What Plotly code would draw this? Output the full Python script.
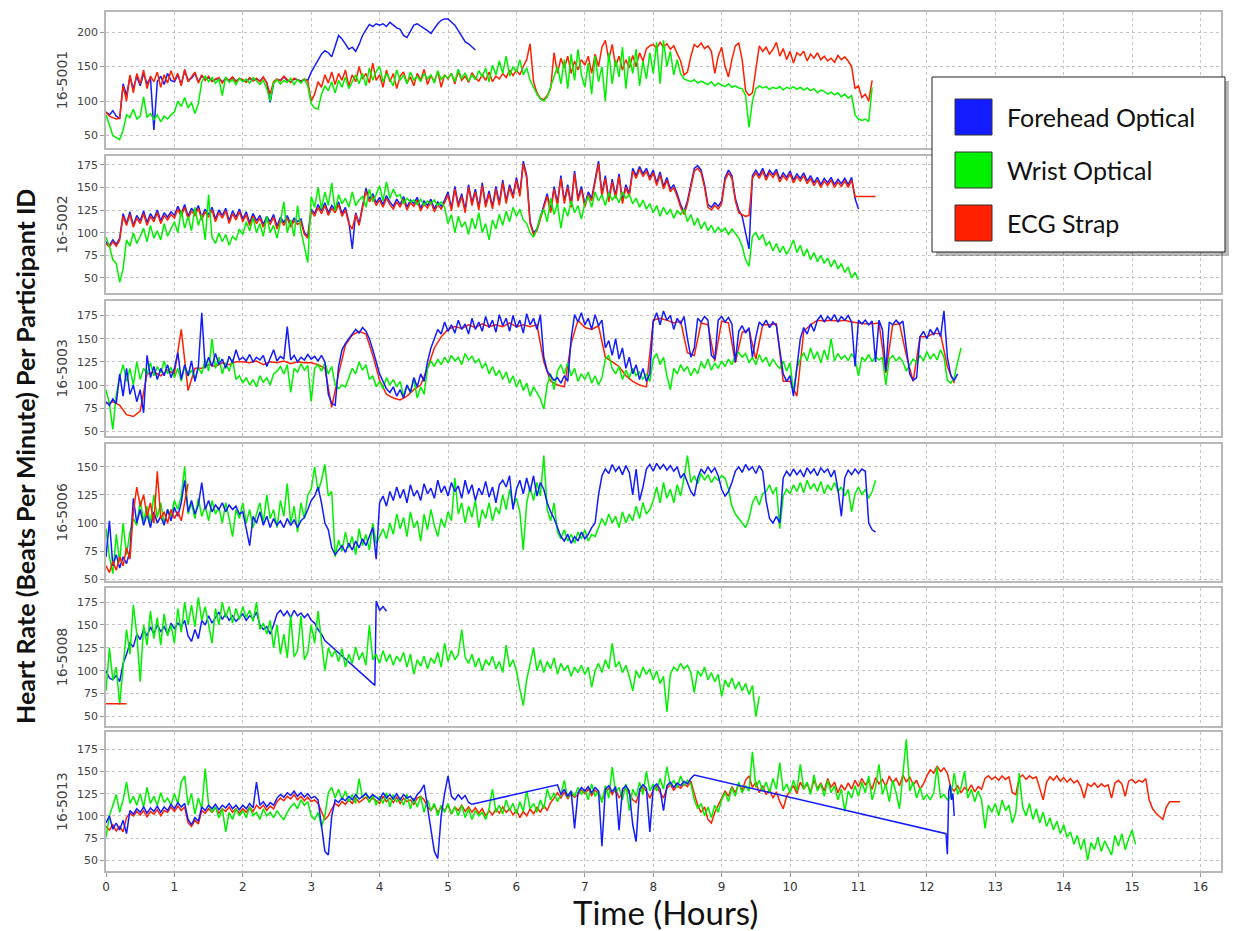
import numpy as np
import plotly.graph_objects as go

# ---------------- data ----------------
DT = 0.05

PANEL_IDS = ["16-5001", "16-5002", "16-5003", "16-5006", "16-5008", "16-5013"]
SERIES_NAMES = ["Forehead Optical", "Wrist Optical", "ECG Strap"]
X_TICKS = list(range(0, 17))
Y_TICKS = [
    [50, 100, 150, 200],
    [50, 75, 100, 125, 150, 175],
    [50, 75, 100, 125, 150, 175],
    [50, 75, 100, 125, 150],
    [50, 75, 100, 125, 150, 175],
    [50, 75, 100, 125, 150, 175],
]
Y_RANGES = [[32, 229], [33, 185], [45, 191], [48.8, 170.2], [40, 190], [38, 194]]

# ---- 16-5001 ----
P1_BLUE = [
    84, 80, 86, 78, 75, 125, 108, 135, 118, 136, 122, 140, 125, 134, 58, 128, 136, 124, 140, 130,
    128, 138, 124, 144, 130, 133, 140, 128, 136, 131, 134, 129, 131, 133, 128, 132, 130, 134, 129, 132,
    130, 128, 133, 130, 132, 129, 134, 127, 98, 126, 131, 130, 135, 130, 128, 132, 131, 129, 131, 130,
    142, 150, 160, 168, 173, 170, 164, 180, 195, 190, 182, 175, 178, 172, 182, 195, 203, 211, 208, 212,
    210, 212, 208, 214, 210, 206, 204, 195, 192, 200, 210, 212, 209, 206, 202, 198, 205, 212, 217, 219,
    219, 214, 210, 202, 193, 186, 183, 178, 174]
P1_RED = [
    84, 78, 76, 74, 75, 122, 100, 138, 112, 140, 125, 145, 118, 136, 128, 142, 120, 138, 126, 144,
    130, 140, 122, 146, 128, 135, 142, 126, 138, 130, 136, 128, 132, 134, 126, 133, 130, 135, 128, 133,
    131, 127, 134, 129, 133, 128, 135, 126, 110, 128, 132, 129, 136, 131, 127, 133, 130, 128, 132, 129,
    100, 110, 128, 120, 138, 126, 142, 124, 140, 130, 145, 122, 138, 128, 150, 132, 140, 126, 155, 130,
    138, 120, 145, 128, 140, 118, 136, 142, 126, 135, 122, 140, 130, 146, 124, 137, 128, 143, 120, 138,
    132, 140, 125, 143, 130, 136, 127, 141, 133, 129, 138, 130, 142, 128, 136, 132, 140, 134, 145, 137,
    145, 138, 150, 160, 183, 128, 112, 104, 102, 108, 118, 170, 140, 162, 148, 165, 140, 158, 145, 160,
    152, 165, 140, 168, 150, 178, 188, 160, 182, 150, 165, 145, 160, 148, 166, 150, 170, 158, 176, 180,
    182, 176, 185, 178, 183, 175, 180, 170, 158, 138, 142, 165, 182, 178, 184, 176, 180, 172, 140, 165,
    178, 150, 135, 160, 180, 184, 160, 115, 108, 112, 150, 180, 172, 178, 168, 175, 185, 165, 176, 160,
    172, 155, 170, 166, 172, 158, 168, 162, 170, 160, 165, 158, 162, 156, 166, 160, 164, 158, 150, 118,
    122, 105, 110, 100, 130]
P1_GREEN = [
    80, 66, 50, 47, 44, 58, 80, 76, 88, 74, 78, 106, 76, 82, 73, 80, 70, 78, 74, 80,
    84, 100, 92, 105, 90, 98, 82, 96, 128, 136, 128, 134, 126, 132, 108, 135, 127, 131, 124, 133,
    128, 132, 126, 134, 129, 124, 130, 118, 100, 126, 131, 125, 130, 127, 133, 124, 131, 126, 132, 122,
    96, 90, 88, 110, 122, 115, 128, 112, 130, 120, 135, 118, 128, 138, 125, 140, 122, 148, 130, 143,
    150, 128, 140, 132, 122, 145, 130, 138, 125, 142, 130, 136, 128, 140, 132, 138, 126, 144, 131, 137,
    133, 140, 128, 146, 132, 141, 129, 138, 131, 144, 135, 148, 128, 152, 138, 158, 140, 165, 136, 150,
    142, 160, 138, 148, 130, 120, 110, 103, 100, 106, 120, 135, 150, 125, 160, 118, 168, 130, 175, 138,
    120, 155, 110, 165, 128, 150, 100, 170, 125, 160, 135, 178, 118, 165, 140, 175, 122, 158, 132, 170,
    140, 185, 125, 188, 150, 172, 138, 160, 140, 132, 130, 128, 131, 126, 129, 127, 124, 128, 122, 126,
    123, 121, 125, 120, 122, 119, 118, 108, 62, 100, 118, 122, 119, 121, 117, 120, 118, 121, 116, 120,
    118, 121, 117, 120, 116, 119, 115, 118, 112, 116, 114, 110, 113, 109, 112, 106, 110, 104, 108, 80,
    74, 72, 74, 70, 120]

# ---- 16-5002 ----
P2_BLUE = [
    90, 86, 92, 87, 94, 121, 110, 123, 108, 119, 113, 124, 111, 121, 115, 125, 113, 122, 117, 123,
    119, 129, 121, 131, 118, 127, 122, 130, 117, 126, 120, 128, 115, 125, 119, 127, 113, 124, 117, 126,
    115, 123, 111, 121, 113, 119, 109, 118, 112, 120, 107, 117, 111, 119, 109, 116, 112, 115, 100, 96,
    126, 121, 131, 124, 133, 122, 130, 125, 134, 121, 128, 112, 82, 122, 110, 129, 149, 137, 143, 133,
    139, 131, 141, 134, 129, 137, 131, 140, 128, 136, 132, 139, 127, 135, 130, 137, 126, 134, 129, 136,
    145, 127, 151, 131, 143, 125, 153, 133, 148, 128, 155, 131, 146, 129, 151, 133, 158, 135, 153, 141,
    161, 143, 179, 163, 112, 100, 104, 117, 130, 143, 124, 151, 133, 163, 135, 153, 131, 168, 138, 151,
    131, 145, 138, 161, 179, 143, 163, 137, 159, 141, 165, 135, 153, 143, 171, 163, 173, 165, 171, 161,
    169, 155, 167, 151, 161, 148, 153, 143, 131, 123, 135, 153, 171, 174, 169, 153, 131, 128, 133, 129,
    135, 161, 169, 163, 138, 125, 118, 100, 82, 163, 169, 163, 171, 161, 169, 164, 170, 159, 166, 161,
    168, 158, 165, 160, 166, 157, 163, 155, 161, 153, 160, 155, 161, 153, 159, 154, 160, 153, 161, 138,
    126]
P2_RED = [
    88, 84, 90, 85, 92, 118, 108, 120, 106, 116, 110, 121, 108, 118, 112, 122, 110, 119, 114, 120,
    116, 126, 118, 128, 115, 124, 119, 127, 114, 123, 117, 125, 112, 122, 116, 124, 110, 121, 114, 123,
    112, 120, 108, 118, 110, 116, 106, 115, 109, 117, 104, 114, 108, 116, 106, 113, 109, 112, 98, 94,
    124, 118, 128, 121, 130, 119, 127, 122, 131, 118, 125, 110, 104, 120, 108, 126, 146, 134, 140, 130,
    136, 128, 138, 131, 126, 134, 128, 137, 125, 133, 129, 136, 124, 132, 127, 134, 123, 131, 126, 133,
    142, 124, 148, 128, 140, 122, 150, 130, 145, 125, 152, 128, 143, 126, 148, 130, 155, 132, 150, 138,
    158, 140, 176, 160, 110, 98, 102, 115, 128, 140, 122, 148, 130, 160, 132, 150, 128, 165, 135, 148,
    128, 142, 135, 158, 176, 140, 160, 134, 156, 138, 162, 132, 150, 140, 168, 160, 170, 162, 168, 158,
    166, 152, 164, 148, 158, 145, 150, 140, 128, 120, 132, 150, 168, 171, 166, 150, 128, 125, 130, 126,
    132, 158, 166, 160, 135, 122, 120, 118, 119, 160, 166, 160, 168, 158, 166, 161, 167, 156, 163, 158,
    165, 155, 162, 157, 163, 154, 160, 152, 158, 150, 157, 152, 158, 150, 156, 151, 157, 150, 158, 140,
    140, 140, 140, 140, 140, 140]
P2_GREEN = [
    95, 85, 70, 66, 45, 60, 92, 85, 100, 88, 96, 105, 90, 108, 94, 102, 92, 110, 96, 104,
    112, 100, 125, 105, 118, 102, 128, 108, 120, 92, 142, 95, 88, 100, 90, 98, 86, 96, 92, 104,
    98, 112, 102, 116, 100, 110, 96, 118, 100, 108, 94, 112, 134, 100, 114, 96, 130, 102, 84, 67,
    140, 128, 150, 126, 145, 130, 155, 124, 142, 132, 138, 128, 145, 130, 136, 140, 128, 148, 134, 142,
    152, 135, 156, 138, 148, 140, 142, 132, 138, 134, 136, 131, 137, 130, 135, 132, 136, 130, 134, 128,
    110, 120, 100, 118, 106, 112, 98, 116, 104, 122, 100, 110, 92, 114, 104, 120, 108, 124, 112, 128,
    118, 126, 114, 110, 100, 95, 104, 118, 126, 112, 138, 120, 132, 105, 128, 118, 135, 122, 130, 115,
    132, 140, 128, 145, 135, 142, 130, 144, 136, 141, 133, 145, 138, 142, 132, 138, 128, 136, 126, 132,
    122, 130, 118, 128, 120, 126, 116, 124, 120, 126, 112, 120, 108, 116, 104, 112, 102, 108, 100, 106,
    101, 105, 98, 104, 99, 94, 85, 70, 63, 96, 100, 92, 98, 86, 90, 80, 88, 78, 85, 76,
    83, 92, 78, 86, 74, 82, 70, 78, 68, 75, 66, 72, 62, 70, 60, 66, 56, 62, 50, 56,
    48]

# ---- 16-5003 ----
P3_BLUE = [
    82, 78, 85, 80, 112, 88, 118, 90, 100, 82, 95, 70, 132, 108, 120, 106, 118, 110, 122, 108,
    118, 135, 106, 122, 110, 126, 104, 120, 178, 118, 130, 120, 134, 122, 128, 118, 131, 124, 138, 127,
    130, 126, 133, 125, 130, 127, 132, 120, 129, 138, 126, 131, 128, 163, 127, 132, 125, 130, 127, 133,
    128, 131, 126, 132, 125, 90, 80, 78, 120, 138, 145, 150, 155, 160, 156, 162, 158, 150, 138, 125,
    112, 104, 96, 92, 98, 88, 95, 86, 100, 92, 108, 98, 112, 104, 125, 140, 150, 160, 155, 168,
    158, 165, 156, 170, 160, 166, 155, 172, 160, 168, 158, 174, 162, 170, 157, 176, 164, 172, 158, 175,
    162, 170, 156, 177, 165, 172, 160, 176, 130, 115, 110, 105, 108, 102, 110, 104, 150, 176, 168, 178,
    165, 172, 160, 176, 164, 170, 140, 148, 132, 150, 128, 140, 118, 130, 112, 122, 106, 118, 104, 112,
    168, 178, 165, 180, 170, 175, 160, 172, 166, 174, 150, 130, 140, 172, 168, 174, 170, 132, 128, 170,
    174, 168, 173, 166, 125, 158, 164, 156, 162, 130, 152, 168, 164, 170, 162, 168, 164, 140, 112, 104,
    110, 88, 120, 150, 162, 155, 166, 158, 170, 175, 168, 174, 170, 176, 168, 174, 170, 175, 168, 120,
    170, 166, 170, 165, 169, 125, 170, 160, 115, 168, 165, 170, 166, 169, 140, 112, 105, 108, 152, 158,
    150, 160, 154, 162, 152, 180, 130, 110, 105, 112]
P3_RED_DT = 0.1
P3_RED = [
    80, 82, 78, 68, 66, 72, 112, 114, 110, 116,
    112, 160, 94, 118, 118, 122, 120, 124, 122, 125,
    125, 124, 126, 122, 125, 124, 126, 123, 125, 124,
    124, 122, 118, 76, 112, 143, 154, 158, 155, 132,
    105, 90, 86, 84, 88, 95, 100, 118, 140, 152,
    160, 163, 161, 165, 162, 166, 163, 165, 163, 167,
    163, 165, 163, 165, 125, 104, 100, 98, 145, 170,
    162, 160, 164, 130, 125, 120, 110, 104, 100, 98,
    170, 172, 170, 167, 169, 135, 132, 167, 165, 126,
    169, 167, 124, 157, 160, 128, 165, 165, 166, 104,
    104, 88, 158, 165, 170, 169, 170, 169, 170, 168,
    167, 166, 166, 167, 113, 165, 166, 132, 104, 152,
    152, 156, 155, 120, 102]
P3_GREEN = [
    95, 80, 52, 90, 108, 122, 104, 118, 100, 125, 106, 118, 112, 124, 110, 120, 113, 126, 112, 119,
    108, 118, 104, 120, 110, 116, 106, 119, 112, 128, 115, 150, 118, 130, 112, 124, 115, 128, 106, 110,
    102, 108, 100, 106, 98, 110, 103, 108, 100, 112, 115, 120, 112, 122, 92, 118, 114, 123, 116, 121,
    82, 118, 122, 115, 124, 112, 120, 100, 96, 100, 98, 108, 118, 112, 125, 116, 122, 106, 110, 98,
    104, 96, 108, 100, 106, 98, 104, 88, 100, 92, 106, 86, 98, 90, 118, 126, 120, 128, 122, 130,
    124, 132, 126, 130, 122, 134, 127, 131, 124, 128, 118, 124, 112, 120, 110, 116, 106, 114, 102, 110,
    98, 106, 94, 102, 88, 98, 92, 85, 74, 100, 112, 95, 115, 122, 112, 124, 110, 118, 104, 112,
    106, 114, 102, 110, 100, 108, 128, 132, 118, 112, 120, 106, 116, 108, 118, 110, 114, 106, 112, 104,
    128, 134, 122, 130, 110, 95, 118, 112, 122, 115, 120, 110, 118, 112, 125, 118, 128, 116, 124, 118,
    126, 120, 128, 122, 132, 135, 130, 134, 124, 130, 122, 133, 125, 130, 120, 128, 122, 118, 126, 115,
    124, 92, 118, 128, 135, 126, 140, 128, 136, 124, 138, 127, 150, 126, 134, 128, 132, 126, 134, 128,
    110, 130, 126, 133, 125, 131, 127, 130, 100, 128, 132, 126, 130, 125, 115, 122, 128, 124, 132, 126,
    136, 128, 134, 127, 138, 130, 105, 102, 108, 125, 140]

# ---- 16-5006 ----
P4_BLUE = [
    70, 102, 62, 72, 60, 70, 64, 75, 122, 100, 112, 98, 108, 96, 110, 100, 106, 98, 112, 102,
    114, 106, 118, 138, 110, 120, 108, 116, 136, 112, 120, 110, 116, 112, 118, 110, 116, 112, 115, 108,
    110, 95, 80, 106, 100, 110, 98, 106, 96, 104, 98, 102, 96, 104, 98, 103, 96, 102, 105, 112,
    120, 124, 132, 118, 100, 94, 78, 72, 76, 80, 74, 82, 76, 84, 78, 86, 80, 88, 96, 68,
    118, 124, 115, 128, 120, 132, 122, 130, 118, 134, 124, 129, 120, 135, 126, 131, 122, 138, 127, 133,
    124, 136, 128, 133, 122, 138, 126, 134, 120, 131, 125, 137, 123, 132, 118, 134, 138, 132, 142, 112,
    130, 138, 126, 140, 128, 142, 124, 136, 130, 118, 110, 104, 96, 88, 84, 90, 82, 88, 84, 92,
    86, 90, 96, 100, 125, 142, 148, 144, 152, 146, 150, 143, 151, 145, 125, 148, 120, 132, 148, 152,
    146, 153, 148, 152, 147, 151, 146, 150, 140, 144, 136, 128, 124, 140, 148, 144, 150, 145, 149, 142,
    130, 124, 128, 136, 146, 150, 145, 152, 147, 150, 144, 151, 146, 120, 104, 100, 106, 100, 140, 146,
    142, 148, 143, 147, 141, 149, 144, 148, 142, 149, 145, 148, 141, 147, 130, 106, 140, 147, 143, 148,
    144, 148, 146, 100, 94, 92]
P4_RED = [
    62, 56, 66, 58, 70, 62, 78, 68, 110, 132, 115, 125, 106, 118, 100, 146, 104, 110, 100, 112,
    104, 110, 102, 120, 135]
P4_GREEN = [
    95, 70, 55, 90, 65, 100, 72, 92, 104, 98, 120, 102, 115, 100, 125, 105, 118, 100, 112, 106,
    120, 112, 124, 150, 108, 118, 104, 122, 106, 115, 102, 120, 108, 114, 100, 118, 104, 88, 112, 104,
    118, 100, 112, 96, 108, 118, 100, 125, 104, 112, 96, 120, 106, 135, 100, 115, 92, 118, 104, 125,
    130, 150, 128, 138, 152, 124, 128, 70, 85, 75, 92, 78, 88, 72, 95, 80, 90, 76, 100, 82,
    88, 95, 86, 100, 90, 108, 95, 105, 88, 110, 96, 102, 84, 108, 94, 112, 98, 88, 104, 96,
    110, 102, 140, 108, 118, 100, 115, 105, 120, 96, 112, 104, 118, 102, 114, 108, 125, 112, 130, 115,
    122, 110, 76, 118, 132, 120, 136, 124, 160, 112, 102, 118, 92, 86, 94, 84, 90, 82, 92, 86,
    94, 84, 90, 88, 96, 104, 98, 108, 100, 106, 96, 110, 100, 108, 102, 115, 104, 118, 108, 112,
    120, 132, 118, 136, 122, 130, 118, 134, 124, 140, 160, 136, 142, 135, 144, 138, 143, 136, 141, 138,
    142, 140, 130, 115, 108, 104, 100, 96, 104, 118, 124, 116, 126, 128, 134, 126, 132, 95, 124, 130,
    126, 134, 128, 136, 127, 138, 130, 135, 128, 137, 126, 134, 129, 136, 128, 132, 124, 130, 110, 126,
    132, 125, 130, 122, 128, 138]

# ---- 16-5008 ----
P5_BLUE_A = [
    100, 92, 90, 95, 88, 108, 118, 130, 126, 140, 134, 145, 138, 148, 140, 150, 143, 148, 140, 152,
    146, 152, 148, 155, 138, 132, 145, 135, 155, 150, 160, 152, 158, 164, 156, 162, 155, 160, 154, 158,
    162, 155, 160, 157, 164, 150, 145, 148, 140, 150, 162, 166, 160, 165, 158, 166, 160, 163, 158, 162,
    155, 152, 145, 140, 133]
P5_BLUE_B_T0 = 3.93
P5_BLUE_B = [84]
P5_BLUE_C_T0 = 3.95
P5_BLUE_C = [176, 166, 170, 165]
P5_RED = [64, 64, 64, 64, 64, 64, 64]
P5_GREEN = [
    78, 125, 90, 104, 63, 100, 145, 118, 172, 140, 88, 150, 128, 165, 135, 158, 128, 162, 138, 150,
    130, 168, 142, 175, 150, 172, 148, 180, 155, 170, 148, 130, 168, 150, 175, 158, 170, 152, 168, 156,
    170, 158, 166, 154, 175, 145, 152, 140, 155, 125, 150, 118, 140, 114, 160, 115, 122, 160, 112, 120,
    150, 130, 165, 135, 100, 125, 115, 122, 110, 124, 104, 118, 108, 126, 112, 120, 106, 150, 112, 118,
    108, 122, 110, 118, 106, 116, 110, 120, 104, 118, 96, 112, 105, 116, 102, 114, 108, 120, 104, 130,
    110, 122, 112, 118, 145, 115, 108, 118, 104, 114, 100, 112, 106, 116, 102, 110, 98, 128, 104, 112,
    100, 80, 62, 90, 108, 125, 100, 112, 98, 110, 102, 114, 96, 108, 100, 106, 94, 104, 98, 106,
    96, 104, 82, 100, 108, 98, 112, 102, 130, 104, 110, 98, 106, 94, 78, 100, 92, 104, 96, 102,
    90, 100, 86, 94, 55, 96, 104, 100, 108, 102, 106, 98, 76, 100, 94, 104, 90, 98, 88, 96,
    72, 90, 82, 92, 80, 88, 78, 86, 74, 84, 50, 72]

# ---- 16-5013 ----
P6_BLUE_A = [
    92, 100, 85, 92, 84, 95, 80, 106, 102, 108, 104, 110, 103, 109, 105, 111, 104, 110, 106, 113,
    108, 115, 110, 114, 96, 90, 98, 94, 110, 106, 112, 108, 113, 107, 112, 109, 114, 108, 112, 107,
    112, 108, 114, 109, 138, 112, 116, 110, 115, 112, 120, 124, 121, 126, 123, 128, 122, 126, 121, 125,
    120, 122, 118, 90, 60, 56, 100, 118, 115, 120, 117, 122, 118, 124, 119, 122, 125, 120, 124, 121,
    118, 126, 120, 124, 119, 125, 118, 124, 120, 122, 117, 124, 128, 135, 110, 85, 60, 52, 100, 125,
    145, 122, 118, 124, 119, 123, 115, 113]
P6_BLUE_B_T0 = 6.6
P6_BLUE_B = [
    135, 124, 130, 122, 128, 86, 126, 132,
    128, 133, 126, 132, 128, 66, 130, 134, 127, 133, 84, 130, 134, 128, 90, 71, 130, 135, 131, 82,
    132, 136, 130, 106, 134, 138, 132, 137, 134, 139, 136, 142, 146]
P6_BLUE_C_T0 = 12.28
P6_BLUE_C_DT = 0.02
P6_BLUE_C = [80, 57, 128, 135, 118, 125, 100]
P6_RED = [
    88, 84, 90, 83, 88, 82, 98, 103, 100, 105, 101, 106, 99, 105, 102, 107, 100, 106, 104, 110,
    105, 111, 106, 110, 92, 88, 95, 91, 106, 103, 108, 104, 109, 103, 108, 105, 110, 104, 108, 103,
    108, 104, 110, 105, 112, 108, 112, 106, 111, 108, 116, 120, 117, 122, 119, 124, 118, 122, 117, 121,
    116, 118, 114, 104, 96, 100, 108, 114, 111, 116, 113, 118, 114, 120, 115, 118, 121, 116, 120, 117,
    114, 122, 116, 120, 115, 121, 114, 120, 116, 118, 113, 120, 122, 118, 110, 106, 112, 104, 110, 106,
    112, 102, 110, 106, 112, 105, 110, 104, 109, 103, 108, 100, 106, 101, 108, 103, 110, 104, 108, 101,
    106, 98, 105, 100, 108, 102, 110, 104, 112, 106, 115, 120, 126, 120, 127, 119, 125, 121, 124, 129,
    125, 130, 123, 129, 125, 118, 127, 131, 124, 130, 120, 127, 131, 125, 118, 115, 127, 132, 128, 120,
    129, 133, 127, 120, 131, 135, 129, 134, 131, 136, 133, 139, 125, 112, 104, 110, 96, 92, 104, 112,
    120, 128, 122, 133, 126, 136, 129, 140, 145, 132, 138, 126, 134, 124, 130, 120, 127, 116, 108, 122,
    128, 134, 125, 138, 130, 136, 127, 140, 131, 137, 128, 142, 132, 138, 126, 135, 129, 137, 130, 140,
    133, 142, 135, 139, 130, 143, 136, 141, 133, 145, 137, 142, 134, 146, 138, 144, 135, 140, 130, 136,
    145, 152, 148, 156, 150, 154, 148, 132, 128, 134, 126, 132, 128, 135, 127, 133, 130, 142, 145, 141,
    144, 140, 145, 141, 144, 126, 124, 143, 146, 141, 145, 142, 144, 130, 118, 138, 144, 140, 145, 139,
    143, 138, 142, 137, 140, 133, 120, 136, 133, 137, 132, 136, 133, 135, 120, 137, 140, 136, 122, 139,
    141, 137, 140, 138, 142, 118, 108, 103, 99, 96, 110, 116, 116, 116, 116]
P6_GREEN = [
    76, 100, 112, 124, 104, 118, 138, 114, 122, 112, 125, 110, 132, 114, 122, 112, 126, 115, 120, 112,
    125, 114, 138, 145, 112, 125, 102, 120, 108, 153, 112, 104, 110, 98, 108, 82, 104, 96, 108, 100,
    106, 98, 110, 100, 104, 96, 108, 100, 104, 98, 106, 100, 96, 104, 110, 114, 108, 118, 112, 116,
    100, 96, 104, 88, 100, 126, 132, 120, 130, 118, 128, 116, 124, 114, 142, 120, 126, 115, 124, 112,
    122, 114, 126, 110, 124, 116, 120, 112, 124, 108, 120, 110, 122, 104, 118, 106, 114, 100, 112, 104,
    114, 102, 110, 100, 112, 98, 108, 96, 106, 100, 104, 96, 108, 130, 104, 112, 102, 118, 106, 114,
    102, 116, 105, 128, 108, 114, 104, 118, 108, 130, 118, 126, 116, 124, 140, 120, 128, 122, 132, 124,
    130, 118, 136, 122, 128, 115, 134, 120, 155, 126, 132, 118, 136, 106, 130, 122, 138, 124, 150, 128,
    136, 128, 142, 130, 155, 134, 140, 132, 145, 134, 140, 136, 118, 108, 114, 100, 110, 98, 112, 104,
    118, 126, 116, 132, 122, 138, 126, 134, 128, 172, 132, 140, 128, 138, 126, 142, 130, 160, 128, 136,
    126, 140, 128, 158, 130, 138, 124, 146, 128, 136, 122, 140, 126, 134, 118, 130, 105, 128, 120, 134,
    122, 138, 126, 145, 118, 132, 158, 124, 136, 116, 140, 126, 108, 150, 186, 128, 138, 120, 132, 118,
    124, 118, 126, 155, 120, 124, 118, 122, 148, 124, 132, 150, 120, 130, 116, 128, 118, 86, 112, 104,
    114, 100, 118, 106, 112, 92, 104, 148, 110, 100, 114, 96, 108, 92, 104, 88, 98, 84, 94, 80,
    90, 76, 82, 68, 78, 62, 74, 50, 70, 62, 76, 60, 72, 64, 56, 78, 66, 80, 62, 74,
    84, 68]

# (start hour, step, values) segments per series; panels in display order
PANELS = [
    {"blue": [(0.0, DT, P1_BLUE)], "green": [(0.0, DT, P1_GREEN)], "red": [(0.0, DT, P1_RED)],
     "order": ["blue", "red", "green"]},
    {"blue": [(0.0, DT, P2_BLUE)], "green": [(0.0, DT, P2_GREEN)], "red": [(0.0, DT, P2_RED)],
     "order": ["blue", "red", "green"]},
    {"blue": [(0.0, DT, P3_BLUE)], "green": [(0.0, DT, P3_GREEN)], "red": [(0.0, P3_RED_DT, P3_RED)],
     "order": ["red", "green", "blue"]},
    {"blue": [(0.0, DT, P4_BLUE)], "green": [(0.0, DT, P4_GREEN)], "red": [(0.0, DT, P4_RED)],
     "order": ["green", "blue", "red"]},
    {"blue": [(0.0, DT, P5_BLUE_A), (P5_BLUE_B_T0, DT, P5_BLUE_B), (P5_BLUE_C_T0, DT, P5_BLUE_C)],
     "green": [(0.0, DT, P5_GREEN)], "red": [(0.0, DT, P5_RED)],
     "order": ["blue", "green", "red"]},
    {"blue": [(0.0, DT, P6_BLUE_A), (P6_BLUE_B_T0, DT, P6_BLUE_B), (P6_BLUE_C_T0, P6_BLUE_C_DT, P6_BLUE_C)],
     "green": [(0.0, DT, P6_GREEN)], "red": [(0.0, DT, P6_RED)],
     "order": ["red", "green", "blue"]},
]

# ---------------- style ----------------
COLORS = {"blue": "rgb(18,28,255)", "green": "rgb(0,240,0)", "red": "rgb(255,32,0)"}
NAME_OF = {"blue": SERIES_NAMES[0], "green": SERIES_NAMES[1], "red": SERIES_NAMES[2]}

W, H = 1236, 931
ML, MR, MT, MB = 106, 15, 12, 60
PW, PH = W - ML - MR, H - MT - MB


def px(x):
    return (x - ML) / PW


def py(y):
    return 1 - (y - MT) / PH


PANEL_PIX = [(12, 148), (155.7, 293.3), (300.7, 436), (444, 580.7), (588.3, 725.7), (732.3, 871)]

fig = go.Figure()

for i, panel in enumerate(PANELS):
    ax = "" if i == 0 else str(i + 1)
    for key in panel["order"]:
        xs, ys = [], []
        for t0, dt, vals in panel[key]:
            xs.extend(list(t0 + dt * np.arange(len(vals))))
            ys.extend(vals)
        fig.add_trace(go.Scatter(
            x=xs, y=ys, mode="lines", name=NAME_OF[key],
            line=dict(color=COLORS[key], width=1.5),
            xaxis="x" + ax, yaxis="y" + ax, showlegend=False, hoverinfo="skip"))

grid = dict(showgrid=True, gridcolor="#c4c4c4", gridwidth=1, griddash="dot",
            showline=True, mirror=True, linecolor="#b8b8b8", linewidth=1.6, zeroline=False)

layout = {}
for i in range(6):
    ax = "" if i == 0 else str(i + 1)
    top, bot = PANEL_PIX[i]
    layout["xaxis" + ax] = dict(
        domain=[0, 1], range=[0, 16.3], tickvals=X_TICKS, anchor="y" + ax,
        showticklabels=(i == 5), ticks="outside" if i == 5 else "", ticklen=4, tickcolor="#999",
        tickfont=dict(family="DejaVu Sans", size=12, color="#333"),
        **grid)
    layout["yaxis" + ax] = dict(
        domain=[max(py(bot), 0), min(py(top), 1)], range=Y_RANGES[i], tickvals=Y_TICKS[i],
        anchor="x" + ax, ticks="outside", ticklen=4, tickcolor="#999",
        tickfont=dict(family="DejaVu Sans", size=11, color="#444"),
        title=dict(text=PANEL_IDS[i], font=dict(family="DejaVu Sans", size=14, color="#444"), standoff=6),
        **grid)

shapes = []
# legend box (shadow + frame) and colour swatches
lx0, lx1, ly0, ly1 = 932, 1225, 77, 252
shapes.append(dict(type="rect", xref="paper", yref="paper", x0=px(lx0 + 4), x1=px(lx1 + 4),
                   y0=py(ly1 + 4), y1=py(ly0 + 4), fillcolor="rgba(0,0,0,0.28)", line=dict(width=0),
                   layer="above"))
shapes.append(dict(type="rect", xref="paper", yref="paper", x0=px(lx0), x1=px(lx1),
                   y0=py(ly1), y1=py(ly0), fillcolor="white", line=dict(color="#222", width=1),
                   layer="above"))
annotations = []
row_centres = [117, 170, 223]
for k, key in enumerate(["blue", "green", "red"]):
    c = row_centres[k]
    shapes.append(dict(type="rect", xref="paper", yref="paper", x0=px(955), x1=px(992),
                       y0=py(c + 18), y1=py(c - 18), fillcolor=COLORS[key],
                       line=dict(color="#333", width=1), layer="above"))
    annotations.append(dict(xref="paper", yref="paper", x=px(1005), y=py(c), xanchor="left",
                            yanchor="middle", text=NAME_OF[key], showarrow=False,
                            font=dict(family="Lato", size=25, color="#111")))

annotations.append(dict(xref="paper", yref="paper", x=px(25), y=py(457), textangle=-90,
                        xanchor="center", yanchor="middle", showarrow=False,
                        text="<b>Heart Rate (Beats Per Minute) Per Participant ID</b>",
                        font=dict(family="Lato", size=25, color="#111")))
annotations.append(dict(xref="paper", yref="paper", x=px(665), y=py(912), xanchor="center",
                        yanchor="middle", showarrow=False, text="Time (Hours)",
                        font=dict(family="Lato", size=33, color="#111")))

fig.update_layout(
    width=W, height=H, margin=dict(l=ML, r=MR, t=MT, b=MB, autoexpand=False),
    paper_bgcolor="white", plot_bgcolor="white", showlegend=False,
    shapes=shapes, annotations=annotations, **layout)

fig.write_html("out.html", config={"displayModeBar": False},
               post_script="document.body.style.margin='0px';document.body.style.overflow='hidden';")
